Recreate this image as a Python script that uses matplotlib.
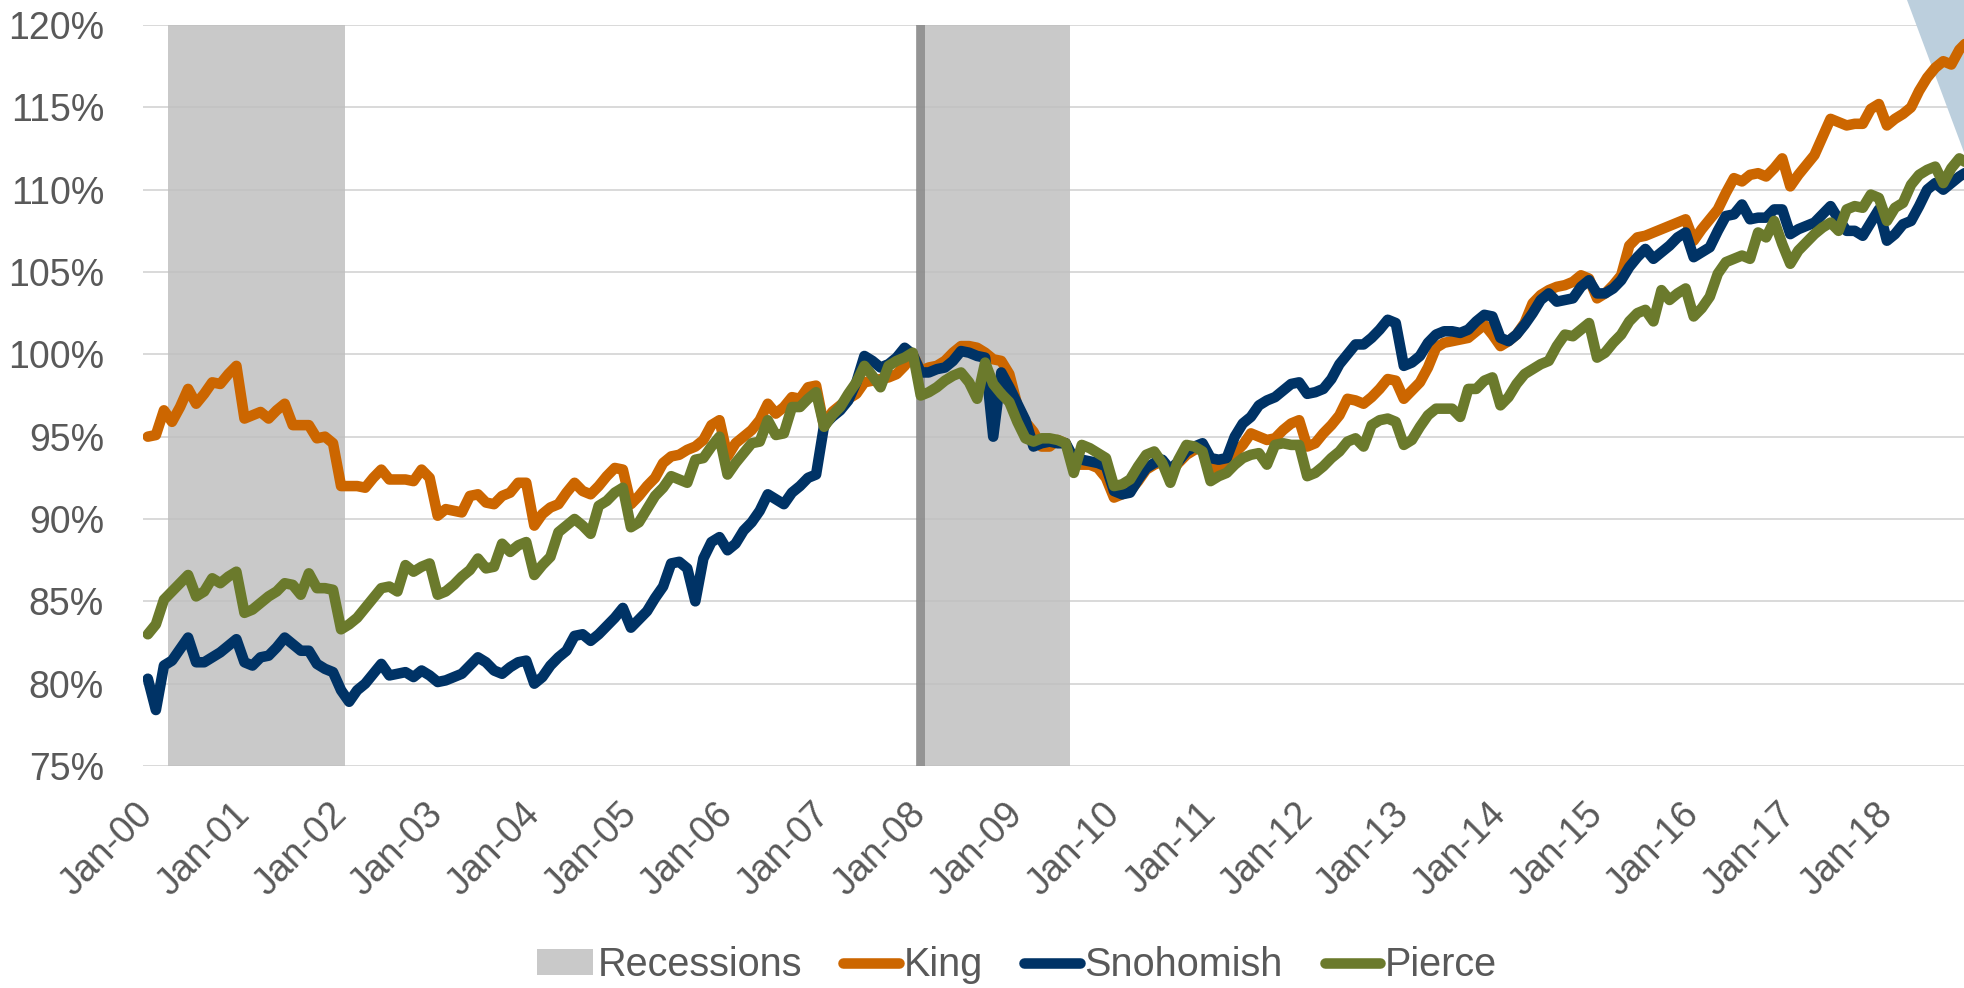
import matplotlib
matplotlib.use('Agg')
import matplotlib.pyplot as plt
import numpy as np
import pandas as pd
from matplotlib import font_manager
from matplotlib.patches import Patch, Polygon
from matplotlib.lines import Line2D
from matplotlib.ticker import FuncFormatter

# index, Dec-2007 = 100%, monthly from Jan-2000
king = [
    95.0, 95.1, 96.6, 95.9, 96.8, 97.9, 97.0, 97.6, 98.3, 98.2, 98.8, 99.3,
    96.1, 96.3, 96.5, 96.1, 96.6, 97.0, 95.7, 95.7, 95.7, 94.9, 95.0, 94.6,
    92.0, 92.0, 92.0, 91.9, 92.5, 93.0, 92.4, 92.4, 92.4, 92.3, 93.0, 92.5,
    90.2, 90.6, 90.5, 90.4, 91.4, 91.5, 91.0, 90.9, 91.4, 91.6, 92.2, 92.2,
    89.6, 90.3, 90.7, 90.9, 91.6, 92.2, 91.7, 91.5, 92.0, 92.6, 93.1, 93.0,
    90.9, 91.4, 92.0, 92.5, 93.4, 93.8, 93.9, 94.2, 94.4, 94.8, 95.7, 96.0,
    93.8, 94.6, 95.0, 95.4, 96.0, 97.0, 96.4, 96.8, 97.4, 97.3, 98.0, 98.1,
    95.6, 96.5, 96.9, 97.3, 97.6, 98.3, 98.4, 98.5, 98.6, 98.8, 99.3, 100.0,
    99.0, 99.2, 99.3, 99.6, 100.1, 100.5, 100.5, 100.4, 100.1, 99.7, 99.6, 98.8,
    96.9, 95.9, 95.3, 94.4, 94.4, 94.8, 94.6, 93.3, 93.3, 93.3, 93.1, 92.5,
    91.3, 91.5, 91.7, 92.3, 93.0, 93.3, 93.5, 92.8, 93.4, 93.9, 94.2, 94.5,
    92.8, 93.2, 93.5, 94.0, 94.5, 95.2, 95.0, 94.8, 94.9, 95.4, 95.8, 96.0,
    94.4, 94.6, 95.2, 95.7, 96.3, 97.3, 97.2, 97.0, 97.4, 97.9, 98.5, 98.4,
    97.3, 97.8, 98.3, 99.2, 100.4, 100.7, 100.8, 100.9, 101.0, 101.4, 101.8, 101.2,
    100.5, 100.8, 101.2, 101.9, 103.1, 103.6, 103.9, 104.1, 104.2, 104.4, 104.8, 104.6,
    103.4, 103.7, 104.2, 104.8, 106.6, 107.1, 107.2, 107.4, 107.6, 107.8, 108.0, 108.2,
    106.9, 107.6, 108.2, 108.8, 109.8, 110.7, 110.5, 110.9, 111.0, 110.8, 111.3, 111.9,
    110.2, 110.9, 111.5, 112.1, 113.2, 114.3, 114.1, 113.9, 114.0, 114.0, 114.9, 115.2,
    113.9, 114.3, 114.6, 115.0, 116.0, 116.8, 117.4, 117.8, 117.6, 118.5, 119.0,
]
snohomish = [
    80.3, 78.4, 81.1, 81.4, 82.1, 82.8, 81.3, 81.3, 81.6, 81.9, 82.3, 82.7,
    81.3, 81.1, 81.6, 81.7, 82.2, 82.8, 82.4, 82.0, 82.0, 81.2, 80.9, 80.7,
    79.6, 78.9, 79.6, 80.0, 80.6, 81.2, 80.5, 80.6, 80.7, 80.4, 80.8, 80.5,
    80.1, 80.2, 80.4, 80.6, 81.1, 81.6, 81.3, 80.8, 80.6, 81.0, 81.3, 81.4,
    80.0, 80.4, 81.1, 81.6, 82.0, 82.9, 83.0, 82.6, 83.0, 83.5, 84.0, 84.6,
    83.4, 83.9, 84.4, 85.2, 85.9, 87.3, 87.4, 87.0, 85.0, 87.6, 88.6, 88.9,
    88.1, 88.5, 89.3, 89.8, 90.5, 91.5, 91.2, 90.9, 91.6, 92.0, 92.5, 92.7,
    95.7, 96.2, 96.6, 97.2, 98.3, 99.9, 99.6, 99.2, 99.4, 99.8, 100.4, 100.0,
    98.9, 98.9, 99.1, 99.2, 99.6, 100.2, 100.1, 99.9, 99.8, 95.0, 98.9, 98.0,
    97.0, 96.0, 94.4, 94.6, 94.7, 94.6, 94.6, 93.7, 93.6, 93.5, 93.4, 93.2,
    91.7, 91.5, 91.6, 92.4, 93.1, 93.4, 93.6, 93.0, 93.5, 94.1, 94.4, 94.6,
    93.7, 93.6, 93.7, 95.0, 95.8, 96.2, 96.9, 97.2, 97.4, 97.8, 98.2, 98.3,
    97.6, 97.7, 97.9, 98.5, 99.4, 100.0, 100.6, 100.6, 101.0, 101.5, 102.1, 101.9,
    99.3, 99.5, 99.9, 100.7, 101.2, 101.4, 101.4, 101.3, 101.5, 102.0, 102.4, 102.3,
    101.0, 100.8, 101.2, 101.8, 102.5, 103.3, 103.7, 103.2, 103.3, 103.4, 104.1, 104.5,
    103.7, 103.7, 104.0, 104.5, 105.3, 105.9, 106.4, 105.8, 106.2, 106.6, 107.1, 107.4,
    105.9, 106.2, 106.5, 107.5, 108.4, 108.5, 109.1, 108.2, 108.3, 108.3, 108.8, 108.8,
    107.3, 107.6, 107.8, 108.0, 108.5, 109.0, 108.2, 107.5, 107.5, 107.2, 108.0, 108.8,
    106.9, 107.3, 107.9, 108.1, 109.0, 110.0, 110.4, 110.0, 110.4, 110.8, 111.1,
]
pierce = [
    83.0, 83.6, 85.1, 85.6, 86.1, 86.6, 85.3, 85.6, 86.4, 86.1, 86.5, 86.8,
    84.3, 84.5, 84.9, 85.3, 85.6, 86.1, 86.0, 85.4, 86.7, 85.8, 85.8, 85.7,
    83.3, 83.6, 84.0, 84.6, 85.2, 85.8, 85.9, 85.6, 87.2, 86.8, 87.1, 87.3,
    85.4, 85.6, 86.0, 86.5, 86.9, 87.6, 87.0, 87.1, 88.5, 88.0, 88.4, 88.6,
    86.6, 87.2, 87.7, 89.2, 89.6, 90.0, 89.6, 89.1, 90.8, 91.1, 91.6, 91.9,
    89.5, 89.8, 90.6, 91.4, 91.9, 92.6, 92.4, 92.2, 93.6, 93.7, 94.4, 95.0,
    92.7, 93.4, 94.0, 94.6, 94.7, 96.0, 95.1, 95.2, 96.8, 96.8, 97.3, 97.7,
    95.6, 96.3, 96.8, 97.6, 98.3, 99.3, 98.7, 98.0, 99.3, 99.6, 99.8, 100.1,
    97.5, 97.7, 98.0, 98.4, 98.7, 98.9, 98.3, 97.3, 99.5, 98.2, 97.6, 97.1,
    95.9, 94.9, 94.7, 94.9, 94.9, 94.8, 94.6, 92.8, 94.5, 94.3, 94.0, 93.7,
    92.0, 92.1, 92.4, 93.2, 93.9, 94.1, 93.4, 92.2, 93.6, 94.5, 94.4, 94.1,
    92.3, 92.6, 92.8, 93.3, 93.7, 93.9, 94.0, 93.3, 94.5, 94.6, 94.5, 94.5,
    92.6, 92.8, 93.2, 93.7, 94.1, 94.7, 94.9, 94.4, 95.7, 96.0, 96.1, 95.9,
    94.5, 94.8, 95.6, 96.3, 96.7, 96.7, 96.7, 96.2, 97.9, 97.9, 98.4, 98.6,
    96.9, 97.4, 98.2, 98.8, 99.1, 99.4, 99.6, 100.5, 101.2, 101.1, 101.5, 101.9,
    99.8, 100.1, 100.7, 101.2, 102.0, 102.5, 102.7, 102.0, 103.9, 103.3, 103.7, 104.0,
    102.3, 102.8, 103.5, 104.9, 105.6, 105.8, 106.0, 105.8, 107.4, 107.1, 108.1, 106.7,
    105.5, 106.3, 106.8, 107.3, 107.7, 108.0, 107.5, 108.8, 109.0, 108.9, 109.7, 109.5,
    108.1, 108.9, 109.2, 110.3, 110.9, 111.2, 111.4, 110.4, 111.3, 111.9, 111.6,
]
months = pd.date_range('2000-01-01', periods=len(king), freq='MS')
tick_labels = [d.strftime('%b-%y') for d in months if d.month == 1]

# recession months (first, last), as month index from Jan-2000
recessions = [(3, 24), (96, 114)]
peak_month = 96

names = {f.name for f in font_manager.fontManager.ttflist}
font = 'Liberation Sans Narrow' if 'Liberation Sans Narrow' in names else 'Liberation Sans'
plt.rcParams['font.family'] = [font, 'DejaVu Sans']
txt = '#595959'
lw = 7.6

W, H = 1965, 988
fig = plt.figure(figsize=(W / 100, H / 100), dpi=100)
ax = fig.add_axes([143 / W, (H - 766) / H, 1 - 143 / W, (766 - 25) / H])
ax.set_facecolor('none')

x = np.arange(len(king))

for a, b in recessions:
    ax.axvspan(a - 0.5, b + 0.5, color='#BEBEBE', alpha=0.82, lw=0, zorder=1)
ax.axvspan(peak_month - 0.55, peak_month + 0.5, color='#7E7E7E', alpha=0.7, lw=0, zorder=1.1)

ax.plot(x, king, color='#CC6600', lw=lw, solid_joinstyle='round', solid_capstyle='round', zorder=3)
ax.plot(x, snohomish, color='#003366', lw=lw, solid_joinstyle='round', solid_capstyle='round', zorder=3.1)
ax.plot(x, pierce, color='#6B7A2C', lw=lw, solid_joinstyle='round', solid_capstyle='round', zorder=3.2)

# light blue corner shape from the slide
tri = Polygon([(1907 / W, 1), (1, 1), (1, 1 - 155 / H)], closed=True,
              transform=fig.transFigure, facecolor='#BCCFDD', edgecolor='none',
              clip_on=False, zorder=2)
ax.add_patch(tri)

ax.set_xlim(-0.6, 225.7)
ax.set_ylim(75, 120)
ax.set_yticks(np.arange(75, 121, 5))
ax.yaxis.set_major_formatter(FuncFormatter(lambda v, p: f'{v:.0f}%'))
ax.set_xticks(x[months.month == 1])
ax.set_xticklabels(tick_labels, rotation=45, ha='right', va='center', rotation_mode='anchor')

ax.grid(axis='y', color='#D9D9D9', lw=1.4, zorder=0.5)
ax.set_axisbelow(True)
for s in ax.spines.values():
    s.set_visible(False)
ax.tick_params(axis='both', length=0, labelcolor=txt, labelsize=27)
ax.tick_params(axis='y', pad=28)
ax.tick_params(axis='x', pad=31)

handles = [
    Patch(facecolor='#C9C9C9', edgecolor='none'),
    Line2D([], [], color='#CC6600', lw=lw, solid_capstyle='round'),
    Line2D([], [], color='#003366', lw=lw, solid_capstyle='round'),
    Line2D([], [], color='#6B7A2C', lw=lw, solid_capstyle='round'),
]
fig.legend(handles, ['Recessions', 'King', 'Snohomish', 'Pierce'], loc='center',
           bbox_to_anchor=(1017 / W, 1 - 965 / H), ncol=4, frameon=False,
           fontsize=28.5, labelcolor=txt, handlelength=1.4, handleheight=0.6,
           handletextpad=0.12, columnspacing=1.05, borderpad=0)

fig.savefig('out.png', dpi=100)
